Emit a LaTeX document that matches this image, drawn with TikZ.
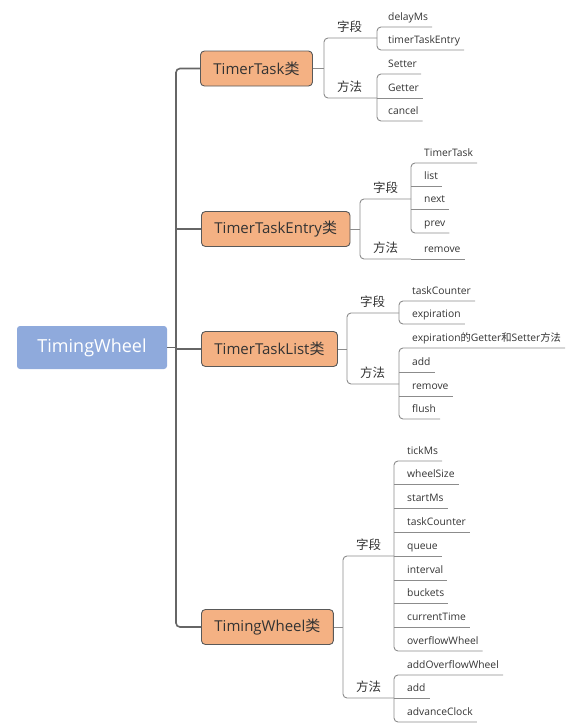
\documentclass[tikz,border=0pt]{standalone}
\usepackage{fontspec}
\setmainfont{Open Sans}
\newfontfamily\cjk{Noto Sans CJK SC}
\usepackage{xcolor}
\usepackage{tikz}
\usetikzlibrary{positioning}
\definecolor{rootblue}{HTML}{8FAADC}
\definecolor{clsorange}{HTML}{F4B183}
\definecolor{txtgray}{HTML}{333333}

\begin{document}
\begin{tikzpicture}[y=-1pt,x=1pt,
	root/.style={fill=rootblue, rounded corners=3pt, minimum width=150pt, minimum height=43pt, text=white, font=\fontsize{18}{20}\selectfont},
	cls/.style={draw=black!65, fill=clsorange, rounded corners=4pt, line width=0.9pt, anchor=west, inner xsep=13pt, minimum height=35pt, text=txtgray, font=\fontsize{15}{17}\selectfont},
	grp/.style={anchor=south west, inner sep=0pt, text depth=6.5pt, text=txtgray, font=\fontsize{12.5}{14}\selectfont\cjk},
	leaf/.style={anchor=south west, inner xsep=4pt, inner ysep=0pt, text height=8pt, text depth=6pt, text=txtgray, font=\fontsize{10.3}{12}\selectfont},
	trunk/.style={draw=black!60, line width=1.6pt, rounded corners=4pt},
	twig/.style={draw=black!45, line width=0.9pt, rounded corners=4pt}]
	\newcommand\Zh[1]{{\cjk #1}}
	\useasboundingbox (0,0) rectangle (568,726);

	\node[root] (tw) at (92,347.5) {TimingWheel};
	\node[cls] (task) at (200,68.5) {TimerTask\Zh{类}};
	\node[cls] (entry) at (201,229) {TimerTaskEntry\Zh{类}};
	\node[cls] (list) at (201,349) {TimerTaskList\Zh{类}};
	\node[cls] (wheel) at (201,627) {TimingWheel\Zh{类}};

	\coordinate (trunkX) at (176,0);
	\draw[trunk] (task.west) -- (task.west -| trunkX) -- (wheel.west -| trunkX) -- (wheel.west);
	\draw[trunk] (entry.west -| trunkX) -- (entry.west);
	\draw[trunk] (list.west -| trunkX) -- (list.west);
	\draw[trunk] (tw.east) -- (tw.east -| trunkX);

	% TimerTask
	\coordinate (tS) at (324,0);
	\coordinate (tV) at (377,0);
	\node[grp] (tF) at (337,38) {字段};
	\node[grp] (tM) at (337,98) {方法};
	\draw[twig] (task.east) -- (task.east -| tS);
	\draw[twig] (tF.south -| tV) -- (tF.south -| tS) -- (tM.south -| tS) -- (tM.south -| tV);
	\node[leaf] (t1) at (384,27) {delayMs};
	\node[leaf] (t2) at (384,50) {timerTaskEntry};
	\draw[twig] (t1.south east) -- (t1.south -| tV) -- (t2.south -| tV) -- (t2.south east);
	\node[leaf] (t3) at (384,74) {Setter};
	\node[leaf] (t4) at (384,98) {Getter};
	\node[leaf] (t5) at (384,121) {cancel};
	\draw[twig] (t3.south east) -- (t3.south -| tV) -- (t5.south -| tV) -- (t5.south east);
	\draw[twig] (t4.south -| tV) -- (t4.south east);

	% TimerTaskEntry
	\coordinate (eS) at (360,0);
	\coordinate (eV) at (411,0);
	\node[grp] (eF) at (373,199) {字段};
	\node[grp] (eM) at (373,259) {方法};
	\draw[twig] (entry.east) -- (entry.east -| eS);
	\draw[twig] (eF.south -| eV) -- (eF.south -| eS) -- (eM.south -| eS) -- (eM.south -| eV);
	\node[leaf] (e1) at (420,163) {TimerTask};
	\node[leaf] (e2) at (420,186) {list};
	\node[leaf] (e3) at (420,209) {next};
	\node[leaf] (e4) at (420,233) {prev};
	\draw[twig] (e1.south east) -- (e1.south -| eV) -- (e4.south -| eV) -- (e4.south east);
	\draw[twig] (e2.south -| eV) -- (e2.south east);
	\draw[twig] (e3.south -| eV) -- (e3.south east);
	\node[leaf] (e5) at (420,259) {remove};
	\draw[twig] (e5.south -| eV) -- (e5.south east);

	% TimerTaskList
	\coordinate (lS) at (347,0);
	\coordinate (lV) at (399,0);
	\node[grp] (lF) at (360,313) {字段};
	\node[grp] (lM) at (360,384) {方法};
	\draw[twig] (list.east) -- (list.east -| lS);
	\draw[twig] (lF.south -| lV) -- (lF.south -| lS) -- (lM.south -| lS) -- (lM.south -| lV);
	\node[leaf] (l1) at (408,301) {taskCounter};
	\node[leaf] (l2) at (408,324) {expiration};
	\draw[twig] (l1.south east) -- (l1.south -| lV) -- (l2.south -| lV) -- (l2.south east);
	\node[leaf] (l3) at (408,348) {expiration\Zh{的}Getter\Zh{和}Setter\Zh{方法}};
	\node[leaf] (l4) at (408,372) {add};
	\node[leaf] (l5) at (408,396) {remove};
	\node[leaf] (l6) at (408,419) {flush};
	\draw[twig] (l3.south east) -- (l3.south -| lV) -- (l6.south -| lV) -- (l6.south east);
	\draw[twig] (l4.south -| lV) -- (l4.south east);
	\draw[twig] (l5.south -| lV) -- (l5.south east);

	% TimingWheel
	\coordinate (wS) at (343,0);
	\coordinate (wV) at (394,0);
	\node[grp] (wF) at (356,556) {字段};
	\node[grp] (wM) at (356,698) {方法};
	\draw[twig] (wheel.east) -- (wheel.east -| wS);
	\draw[twig] (wF.south -| wV) -- (wF.south -| wS) -- (wM.south -| wS) -- (wM.south -| wV);
	\node[leaf] (w1) at (403,461) {tickMs};
	\node[leaf] (w2) at (403,484) {wheelSize};
	\node[leaf] (w3) at (403,508) {startMs};
	\node[leaf] (w4) at (403,532) {taskCounter};
	\node[leaf] (w5) at (403,556) {queue};
	\node[leaf] (w6) at (403,580) {interval};
	\node[leaf] (w7) at (403,603) {buckets};
	\node[leaf] (w8) at (403,627) {currentTime};
	\node[leaf] (w9) at (403,651) {overflowWheel};
	\draw[twig] (w1.south east) -- (w1.south -| wV) -- (w9.south -| wV) -- (w9.south east);
	\draw[twig] (w2.south -| wV) -- (w2.south east);
	\draw[twig] (w3.south -| wV) -- (w3.south east);
	\draw[twig] (w4.south -| wV) -- (w4.south east);
	\draw[twig] (w5.south -| wV) -- (w5.south east);
	\draw[twig] (w6.south -| wV) -- (w6.south east);
	\draw[twig] (w7.south -| wV) -- (w7.south east);
	\draw[twig] (w8.south -| wV) -- (w8.south east);
	\node[leaf] (w10) at (403,675) {addOverflowWheel};
	\node[leaf] (w11) at (403,698) {add};
	\node[leaf] (w12) at (403,722) {advanceClock};
	\draw[twig] (w10.south east) -- (w10.south -| wV) -- (w12.south -| wV) -- (w12.south east);
	\draw[twig] (w11.south -| wV) -- (w11.south east);
\end{tikzpicture}
\end{document}
